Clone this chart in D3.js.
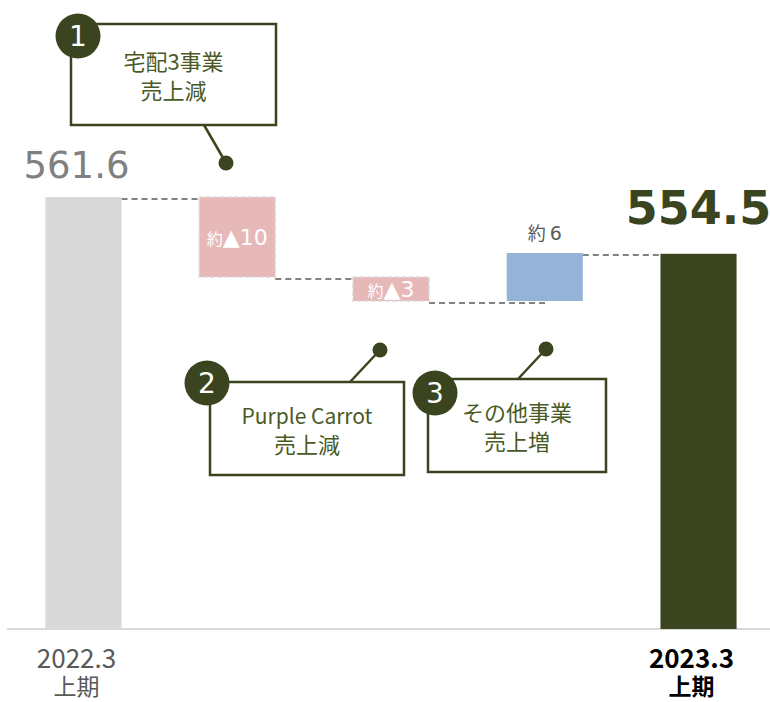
<!DOCTYPE html>
<html>
<head>
<meta charset="utf-8">
<script src="https://cdn.jsdelivr.net/npm/d3@7"></script>
<style>
  body { margin: 0; background: #fff; }
  svg { display: block; font-family: "Noto Sans CJK JP", "Noto Sans", sans-serif; }
</style>
</head>
<body>
<svg id="chart" width="770" height="702"></svg>
<script>
// chart data
const categories = ['2022.3 上期', '宅配3事業', 'Purple Carrot', 'その他事業', '2023.3 上期'];
const startValue = 561.6;
const endValue = 554.5;
const deltas = [-10, -3, 6];
const deltaLabels = ['▲10', '▲3', '6'];
const axisLabels = [['2022.3', '上期'], null, null, null, ['2023.3', '上期']];

// callout notes
const notes = [
  { num: '1', lines: ['宅配3事業', '売上減'] },
  { num: '2', lines: ['Purple Carrot', '売上減'] },
  { num: '3', lines: ['その他事業', '売上増'] }
];

const olive = '#3a4520';
const noteText = '#4a5a26';

const svg = d3.select('#chart');
const width = 770;
const baseY = 629;

const x = d3.scaleBand()
  .domain(categories)
  .range([7, 775])
  .paddingInner(0.505)
  .paddingOuter(0.25);

const y = d3.scaleLinear()
  .domain([507.6, 561.6])
  .range([baseY, 197]);

// build waterfall steps
let level = startValue;
const steps = deltas.map((d, i) => {
  const s = { cat: categories[i + 1], from: level, to: level + d, value: d, label: deltaLabels[i] };
  level += d;
  return s;
});

const bw = x.bandwidth();

// dashed connectors
const levels = [startValue, ...steps.map(s => s.to)];
const connectors = levels.map((v, i) => ({ v, x1: x(categories[i]) + bw, x2: x(categories[i + 1]) }));
connectors[2].x2 += 40;

svg.append('g')
  .selectAll('line')
  .data(connectors)
  .join('line')
  .attr('x1', d => d.x1)
  .attr('x2', d => d.x2)
  .attr('y1', d => y(d.v) + 2)
  .attr('y2', d => y(d.v) + 2)
  .attr('stroke', '#595959')
  .attr('stroke-width', 1.5)
  .attr('stroke-dasharray', '6,4');

// axis
const axis = svg.append('g')
  .attr('transform', `translate(0,${baseY})`)
  .call(d3.axisBottom(x).tickSize(0).tickFormat(''));
axis.select('.domain').attr('d', `M7,0H${width}`).attr('stroke', '#d9d9d9').attr('stroke-width', 2);

// total bars
svg.append('rect')
  .attr('x', x(categories[0]))
  .attr('width', bw)
  .attr('y', y(startValue))
  .attr('height', y.range()[0] - y(startValue))
  .attr('fill', '#d9d9d9');

svg.append('rect')
  .attr('x', x(categories[4]))
  .attr('width', bw)
  .attr('y', y(endValue))
  .attr('height', y.range()[0] - y(endValue))
  .attr('fill', olive);

// step bars
svg.append('g')
  .selectAll('rect')
  .data(steps)
  .join('rect')
  .attr('x', d => x(d.cat))
  .attr('width', bw)
  .attr('y', d => y(Math.max(d.from, d.to)))
  .attr('height', d => Math.abs(y(d.from) - y(d.to)))
  .attr('fill', d => d.value < 0 ? '#e6b9b8' : '#95b3d7')
  .attr('stroke', d => d.value < 0 ? '#d9d9d9' : 'none')
  .attr('stroke-width', 1.5)
  .attr('stroke-dasharray', '4,3');

// step labels
const stepText = svg.append('g')
  .selectAll('text')
  .data(steps)
  .join('text')
  .attr('x', d => x(d.cat) + bw / 2)
  .attr('y', d => d.value < 0 ? (y(d.from) + y(d.to)) / 2 + 8 : y(d.to) - 13)
  .attr('text-anchor', 'middle')
  .attr('fill', d => d.value < 0 ? '#fff' : '#595959');
stepText.append('tspan')
  .attr('font-size', d => d.value < 0 ? 16 : 18)
  .text(d => d.value < 0 ? '約' : '約 ');
stepText.append('tspan')
  .attr('font-family', 'DejaVu Sans, sans-serif')
  .attr('font-size', d => d.value < 0 ? 22 : 19)
  .text(d => d.label);

// total labels
svg.append('text')
  .attr('x', x(categories[0]) + bw / 2 - 7)
  .attr('y', y(startValue) - 19)
  .attr('text-anchor', 'middle')
  .attr('font-family', 'DejaVu Sans, sans-serif')
  .attr('font-size', 37)
  .attr('fill', '#808080')
  .text(startValue.toFixed(1));

svg.append('text')
  .attr('x', x(categories[4]) + bw / 2)
  .attr('y', y(endValue) - 30)
  .attr('text-anchor', 'middle')
  .attr('font-family', 'DejaVu Sans, sans-serif')
  .attr('font-weight', 'bold')
  .attr('font-size', 46)
  .attr('fill', olive)
  .text(endValue.toFixed(1));

// category labels, two lines each
axisLabels.forEach((lines, i) => {
  if (!lines) return;
  const last = i === categories.length - 1;
  const cx = x(categories[i]) + bw / 2 - 7;
  lines.forEach((l, j) => svg.append('text')
    .attr('x', cx)
    .attr('y', j === 0 ? 668 : 695)
    .attr('text-anchor', 'middle')
    .attr('font-size', j === 0 ? 26 : 23)
    .attr('font-weight', last ? 'bold' : 'normal')
    .attr('fill', last ? '#000' : '#595959')
    .text(l));
});

// callouts: box, badge, leader line to the step bar
const noteLayout = [
  { box: [71, 24, 205, 101], badge: [78, 36], from: [204, 125], dot: [226, 163] },
  { box: [210, 382, 194, 93], badge: [207, 383], from: [350, 382], dot: [380, 350] },
  { box: [428, 379, 178, 93], badge: [435, 393], from: [518, 379], dot: [546, 349] }
];

notes.forEach((n, i) => {
  const L = noteLayout[i];
  const g = svg.append('g');
  g.append('line')
    .attr('x1', L.from[0]).attr('y1', L.from[1])
    .attr('x2', L.dot[0]).attr('y2', L.dot[1])
    .attr('stroke', olive).attr('stroke-width', 2.5);
  g.append('circle')
    .attr('cx', L.dot[0]).attr('cy', L.dot[1]).attr('r', 7.5)
    .attr('fill', olive);
  g.append('rect')
    .attr('x', L.box[0]).attr('y', L.box[1])
    .attr('width', L.box[2]).attr('height', L.box[3])
    .attr('fill', '#fff')
    .attr('stroke', olive).attr('stroke-width', 2.5);
  const cx = L.box[0] + L.box[2] / 2;
  const t = g.append('text')
    .attr('text-anchor', 'middle')
    .attr('font-size', 22)
    .attr('fill', noteText);
  n.lines.forEach((l, j) => t.append('tspan')
    .attr('x', cx)
    .attr('y', L.box[1] + L.box[3] / 2 - 5 + j * 29)
    .attr('font-size', /[A-Za-z]/.test(l) ? 21 : 22)
    .text(l));
  g.append('circle')
    .attr('cx', L.badge[0]).attr('cy', L.badge[1]).attr('r', 22.5)
    .attr('fill', olive);
  g.append('text')
    .attr('x', L.badge[0]).attr('y', L.badge[1] + 10)
    .attr('text-anchor', 'middle')
    .attr('font-family', 'DejaVu Sans, sans-serif')
    .attr('font-size', 28)
    .attr('fill', '#fff')
    .text(n.num);
});
</script>
</body>
</html>
